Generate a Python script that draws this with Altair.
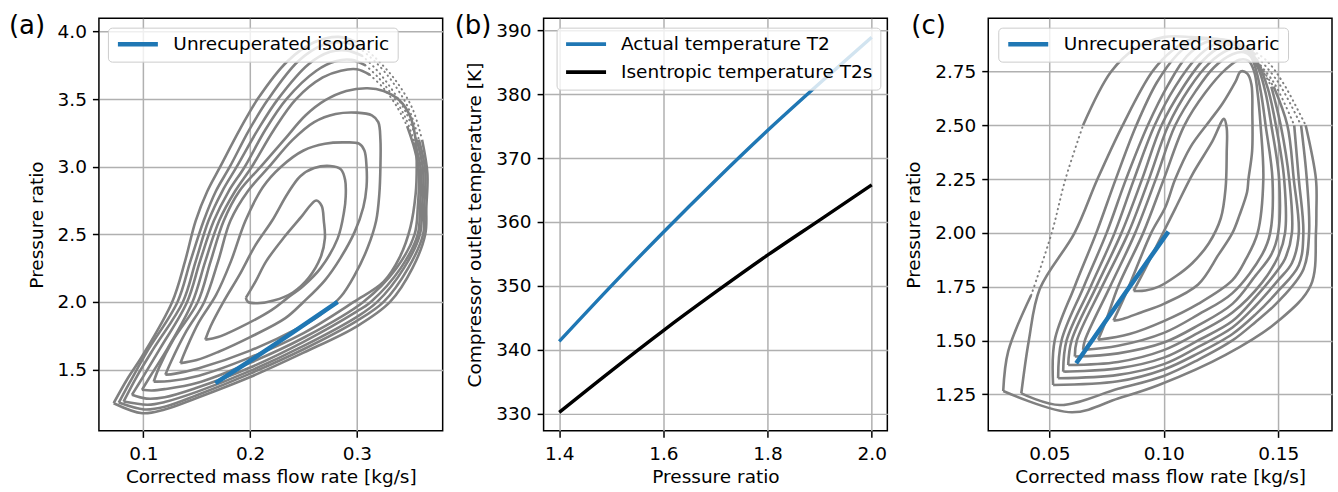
import altair as alt
import pandas as pd

FONT = "DejaVu Sans"
FS = 18.5
GREY = "#808080"
BLUE = "#1f77b4"
W, H = 344, 413

# ---------------- Panel (a): efficiency contours (mass flow [kg/s], pressure ratio)
A1 = [(0.196,2.03),(0.205,2.15),(0.215,2.30),(0.232,2.48),(0.249,2.64),(0.257,2.72),(0.262,2.75),(0.267,2.71),(0.269,2.60),(0.270,2.47),(0.266,2.33),(0.255,2.18),(0.24,2.07),(0.222,2.01),(0.207,1.99),(0.198,2.0),(0.196,2.03)]
A2 = [(0.158,1.72),(0.163,1.82),(0.175,2.0),(0.19,2.2),(0.205,2.42),(0.2205,2.6),(0.235,2.8),(0.247,2.93),(0.26,2.99),(0.275,3.005),(0.285,2.98),(0.289,2.9),(0.2895,2.78),(0.288,2.67),(0.282,2.47),(0.266,2.25),(0.25,2.12),(0.235,2.03),(0.22,1.94),(0.19,1.81),(0.17,1.74),(0.158,1.72)]
A3 = [(0.1347,1.547),(0.14,1.65),(0.152,1.85),(0.168,2.05),(0.182,2.3),(0.1956,2.6),(0.212,2.85),(0.229,3.0),(0.25,3.12),(0.27,3.17),(0.29,3.18),(0.302,3.17),(0.307,3.12),(0.309,3.0),(0.309,2.85),(0.306,2.7),(0.298,2.52),(0.285,2.33),(0.27,2.16),(0.25,2.0),(0.233,1.88),(0.2,1.74),(0.17,1.63),(0.15,1.57),(0.1347,1.547)]
A4 = [(0.1206,1.461),(0.126,1.56),(0.14,1.78),(0.157,2.0),(0.17,2.3),(0.1815,2.6),(0.198,2.82),(0.2178,3.0),(0.24,3.2),(0.26,3.33),(0.28,3.39),(0.30,3.40),(0.314,3.38),(0.32,3.33),(0.322,3.2),(0.322,3.0),(0.321,2.8),(0.318,2.6),(0.31,2.4),(0.298,2.2),(0.285,2.04),(0.265,1.9),(0.246,1.81),(0.2,1.64),(0.152,1.51),(0.13,1.47),(0.1206,1.461)]
A5 = [(0.1097,1.411),(0.115,1.52),(0.128,1.72),(0.151,2.0),(0.163,2.3),(0.1753,2.6),(0.19,2.82),(0.21,3.0),(0.232,3.2),(0.252,3.38),(0.27,3.49),(0.29,3.56),(0.31,3.58),(0.325,3.56),(0.34,3.49),(0.35,3.37),(0.355,3.2),(0.356,3.0),(0.355,2.8),(0.35,2.55),(0.34,2.33),(0.325,2.15),(0.297,2.0),(0.25,1.77),(0.2,1.59),(0.152,1.455),(0.125,1.415),(0.1097,1.411)]
A6 = [(0.0987,1.35),(0.108,1.47),(0.123,1.66),(0.146,2.0),(0.158,2.3),(0.171,2.6),(0.186,2.82),(0.2016,3.0),(0.222,3.27),(0.243,3.5),(0.268,3.66),(0.285,3.71),(0.3,3.72),(0.312,3.68),(0.325,3.58),(0.337,3.45),(0.347,3.3),(0.354,3.13),(0.358,2.97),(0.357,2.7),(0.354,2.5),(0.337,2.25),(0.306,2.0),(0.25,1.735),(0.2,1.55),(0.15,1.40),(0.12,1.355),(0.108,1.345),(0.0987,1.35)]
A7 = [(0.0893,1.313),(0.10,1.45),(0.116,1.66),(0.141,2.0),(0.153,2.3),(0.166,2.6),(0.18,2.82),(0.195,3.0),(0.214,3.27),(0.234,3.5),(0.262,3.71),(0.28,3.78),(0.295,3.79),(0.308,3.75),(0.32,3.66),(0.333,3.53),(0.345,3.37),(0.354,3.18),(0.36,2.97),(0.359,2.7),(0.357,2.5),(0.341,2.25),(0.313,2.0),(0.30,1.93),(0.25,1.705),(0.20,1.515),(0.15,1.365),(0.12,1.295),(0.103,1.285),(0.0893,1.313)]
A8 = [(0.0815,1.263),(0.094,1.45),(0.11,1.66),(0.137,2.0),(0.149,2.3),(0.161,2.6),(0.174,2.82),(0.1875,3.0),(0.207,3.27),(0.226,3.5),(0.255,3.76),(0.275,3.85),(0.29,3.86),(0.305,3.82),(0.318,3.72),(0.332,3.58),(0.346,3.4),(0.356,3.2),(0.362,2.97),(0.361,2.7),(0.359,2.5),(0.344,2.25),(0.319,2.0),(0.30,1.89),(0.25,1.675),(0.20,1.49),(0.15,1.335),(0.12,1.26),(0.104,1.24),(0.0815,1.263)]
A9 = [(0.077,1.256),(0.089,1.43),(0.104,1.64),(0.132,2.0),(0.144,2.3),(0.1565,2.6),(0.168,2.82),(0.181,3.0),(0.199,3.27),(0.217,3.5),(0.245,3.78),(0.268,3.9),(0.286,3.92),(0.302,3.88),(0.318,3.77),(0.334,3.62),(0.349,3.42),(0.358,3.2),(0.364,2.97),(0.363,2.7),(0.362,2.5),(0.348,2.25),(0.325,2.0),(0.30,1.86),(0.25,1.65),(0.20,1.47),(0.15,1.31),(0.12,1.225),(0.101,1.205),(0.077,1.256)]
A10 = [(0.0722,1.251),(0.085,1.43),(0.099,1.6),(0.127,2.0),(0.139,2.3),(0.149,2.6),(0.16,2.82),(0.172,3.0),(0.19,3.27),(0.207,3.5),(0.235,3.78),(0.26,3.92),(0.283,3.96),(0.30,3.92),(0.318,3.8),(0.337,3.63),(0.352,3.43),(0.361,3.2),(0.366,2.95),(0.365,2.7),(0.364,2.5),(0.352,2.25),(0.331,2.0),(0.30,1.82),(0.25,1.625),(0.20,1.445),(0.15,1.29),(0.12,1.205),(0.099,1.177),(0.0722,1.251)]
A_LOOPS = [A1, A2, A3, A4, A5, A6, A7, A8, A9, A10]
# point-index ranges of each loop drawn as sparse dots (loop number -> ranges)
A_DOTTED = {5: [(13, 16)], 6: [(13, 17)], 7: [(13, 17)], 8: [(13, 17)], 9: [(13, 17)]}

A_BLUE_X = [0.1675, 0.20, 0.24, 0.282]
A_BLUE_Y = [1.40, 1.565, 1.775, 2.0]

# ---------------- Panel (b): outlet temperatures
B_PR = [1.4, 1.5, 1.6, 1.7, 1.8, 1.9, 2.0]
B_T2 = [341.3, 350.0, 358.4, 366.5, 374.3, 381.7, 388.9]
B_T2S = [330.2, 336.7, 343.0, 349.0, 354.8, 360.3, 365.8]

# ---------------- Panel (c): efficiency contours
C1 = [(0.0868,1.73),(0.092,1.836),(0.0978,1.96),(0.1051,2.115),(0.1124,2.27),(0.1212,2.425),(0.1263,2.53),(0.1275,2.487),(0.1275,2.378),(0.127,2.208),(0.1249,2.068),(0.1197,1.952),(0.1124,1.859),(0.1051,1.797),(0.0978,1.75),(0.092,1.732),(0.0868,1.73)]
C2 = [(0.078,1.592),(0.0835,1.72),(0.0945,2.0),(0.1007,2.12),(0.105,2.25),(0.1117,2.4),(0.12,2.52),(0.1256,2.6),(0.1314,2.704),(0.1336,2.75),(0.1365,2.74),(0.1383,2.69),(0.1387,2.55),(0.1386,2.38),(0.137,2.25),(0.1364,2.19),(0.133,2.08),(0.13,2.0),(0.124,1.9),(0.115,1.76),(0.1,1.67),(0.09,1.63),(0.082,1.6),(0.078,1.592)]
C3 = [(0.0713,1.503),(0.075,1.6),(0.080,1.75),(0.091,2.0),(0.1,2.25),(0.109,2.5),(0.118,2.65),(0.127,2.76),(0.133,2.805),(0.137,2.8),(0.1395,2.75),(0.1410,2.65),(0.1423,2.5),(0.1435,2.25),(0.141,2.0),(0.136,1.88),(0.13,1.78),(0.115,1.67),(0.10,1.59),(0.085,1.53),(0.0713,1.503)]
C4 = [(0.0647,1.456),(0.0655,1.5),(0.0765,1.75),(0.0875,2.0),(0.0965,2.25),(0.105,2.5),(0.114,2.66),(0.122,2.77),(0.13,2.83),(0.135,2.84),(0.138,2.82),(0.1405,2.75),(0.1425,2.65),(0.1445,2.5),(0.1475,2.25),(0.1465,2.0),(0.143,1.9),(0.13,1.72),(0.115,1.62),(0.10,1.535),(0.08,1.475),(0.0647,1.456)]
C5 = [(0.0611,1.425),(0.062,1.5),(0.073,1.75),(0.0845,2.0),(0.0935,2.25),(0.102,2.5),(0.111,2.67),(0.12,2.79),(0.128,2.85),(0.133,2.86),(0.137,2.84),(0.1415,2.76),(0.1445,2.65),(0.147,2.5),(0.1504,2.25),(0.15,2.0),(0.147,1.9),(0.14,1.8),(0.13,1.67),(0.115,1.57),(0.10,1.49),(0.08,1.44),(0.0611,1.425)]
C6 = [(0.0582,1.386),(0.0597,1.5),(0.0705,1.75),(0.0815,2.0),(0.0905,2.25),(0.099,2.5),(0.108,2.67),(0.117,2.8),(0.125,2.865),(0.131,2.875),(0.136,2.86),(0.1415,2.78),(0.1455,2.67),(0.149,2.5),(0.1526,2.25),(0.153,2.0),(0.15,1.89),(0.143,1.77),(0.13,1.63),(0.115,1.535),(0.10,1.455),(0.08,1.40),(0.0582,1.386)]
C7 = [(0.056,1.355),(0.0575,1.5),(0.068,1.75),(0.0785,2.0),(0.087,2.25),(0.096,2.5),(0.105,2.68),(0.114,2.81),(0.122,2.875),(0.128,2.885),(0.134,2.87),(0.141,2.8),(0.147,2.68),(0.1511,2.5),(0.1548,2.25),(0.156,2.0),(0.153,1.88),(0.15,1.83),(0.14,1.7),(0.13,1.59),(0.115,1.5),(0.10,1.42),(0.08,1.37),(0.056,1.355)]
C8 = [(0.0538,1.324),(0.0553,1.5),(0.065,1.75),(0.075,2.0),(0.0835,2.25),(0.093,2.5),(0.102,2.69),(0.11,2.82),(0.118,2.885),(0.125,2.895),(0.132,2.88),(0.14,2.81),(0.148,2.68),(0.154,2.5),(0.1568,2.25),(0.159,2.0),(0.156,1.86),(0.15,1.78),(0.14,1.66),(0.13,1.56),(0.115,1.47),(0.10,1.39),(0.08,1.34),(0.0538,1.324)]
C9 = [(0.0516,1.293),(0.0523,1.5),(0.061,1.75),(0.0705,2.0),(0.079,2.25),(0.088,2.5),(0.097,2.7),(0.106,2.83),(0.114,2.895),(0.121,2.9),(0.129,2.89),(0.138,2.83),(0.148,2.7),(0.157,2.5),(0.159,2.25),(0.161,2.0),(0.159,1.85),(0.15,1.73),(0.14,1.62),(0.13,1.53),(0.115,1.44),(0.10,1.365),(0.08,1.31),(0.0516,1.293)]
C10 = [(0.0377,1.254),(0.041,1.5),(0.0458,1.74),(0.061,2.0),(0.071,2.25),(0.082,2.5),(0.095,2.75),(0.104,2.85),(0.112,2.9),(0.12,2.905),(0.13,2.89),(0.14,2.83),(0.15,2.7),(0.16,2.5),(0.1625,2.25),(0.1635,2.0),(0.161,1.83),(0.15,1.68),(0.14,1.585),(0.13,1.50),(0.115,1.41),(0.10,1.335),(0.08,1.275),(0.0545,1.20),(0.0377,1.254)]
C11 = [(0.0298,1.265),(0.032,1.45),(0.042,1.71),(0.051,2.0),(0.057,2.25),(0.0647,2.5),(0.077,2.75),(0.088,2.86),(0.1,2.91),(0.112,2.91),(0.125,2.895),(0.137,2.86),(0.145,2.8),(0.152,2.7),(0.162,2.5),(0.1665,2.25),(0.1667,2.1),(0.1665,2.0),(0.1643,1.758),(0.15,1.59),(0.127,1.433),(0.0978,1.293),(0.08,1.23),(0.0598,1.166),(0.0298,1.265)]
C_LOOPS = [C1, C2, C3, C4, C5, C6, C7, C8, C9, C10, C11]
C_DOTTED = {6: [(11, 12)], 7: [(11, 12)], 8: [(11, 13)], 9: [(11, 13)],
            10: [(2, 5), (11, 14)]}

C_BLUE_X = [0.0617, 0.08, 0.102]
C_BLUE_Y = [1.394, 1.673, 2.006]

LBL_A = "Unrecuperated isobaric"
LBL_T2 = "Actual temperature T2"
LBL_T2S = "Isentropic temperature T2s"


def split_loop(n, ranges):
    """Return (start, end, dotted) index pieces covering 0..n-1."""
    pieces, cur = [], 0
    for s, e in sorted(ranges):
        if s > cur:
            pieces.append((cur, s, False))
        pieces.append((s, e, True))
        cur = e
    if cur < n - 1:
        pieces.append((cur, n - 1, False))
    return pieces


def loops_df(loops, prefix, dotted_map):
    rows = []
    for k, pts in enumerate(loops):
        for j, (s, e, dot) in enumerate(split_loop(len(pts), dotted_map.get(k, []))):
            for i in range(s, e + 1):
                x, y = pts[i]
                rows.append({"seg": f"{prefix}{k}_{j}", "i": i, "x": x, "y": y, "dot": dot})
    return pd.DataFrame(rows)


def legend(x, y, sw):
    return alt.Legend(
        title=None, orient="none", legendX=x, legendY=y,
        fillColor="rgba(255,255,255,0.8)", strokeColor="#cccccc",
        cornerRadius=4, padding=7.5, symbolType="stroke",
        symbolStrokeWidth=sw, symbolSize=1600, labelFont=FONT,
        labelFontSize=FS, labelColor="black", labelOffset=13,
        labelLimit=600, clipHeight=18, rowPadding=9, zindex=1,
    )


def panel_label(txt, dx):
    return alt.Chart(pd.DataFrame({"t": [txt]})).mark_text(
        align="left", baseline="alphabetic", fontSize=26, font=FONT, color="black"
    ).encode(text="t:N", x=alt.value(dx), y=alt.value(16))


def map_panel(loops, prefix, dotted_map, bx, by, xdom, ydom, xvals, yvals, fmt, lx, tag, tagdx):
    xs = alt.Scale(domain=xdom, nice=False, zero=False)
    ys = alt.Scale(domain=ydom, nice=False, zero=False)
    xa = alt.Axis(title="Corrected mass flow rate [kg/s]", values=xvals, format=fmt[0])
    ya = alt.Axis(title="Pressure ratio", values=yvals, format=fmt[1])
    df = loops_df(loops, prefix, dotted_map)
    solid = alt.Chart(df[~df["dot"]]).mark_line(
        color=GREY, strokeWidth=2.6, clip=True, interpolate="catmull-rom"
    ).encode(
        x=alt.X("x:Q", scale=xs, axis=xa),
        y=alt.Y("y:Q", scale=ys, axis=ya),
        detail="seg:N",
        order="i:Q",
    )
    dots = alt.Chart(df[df["dot"]]).mark_line(
        color=GREY, strokeWidth=2.0, clip=True, interpolate="catmull-rom",
        strokeDash=[0.5, 4.5], strokeCap="round"
    ).encode(x="x:Q", y="y:Q", detail="seg:N", order="i:Q")
    bdf = pd.DataFrame({"x": bx, "y": by, "series": [LBL_A] * len(bx)})
    blue = alt.Chart(bdf).mark_line(strokeWidth=4.5, clip=True).encode(
        x="x:Q", y="y:Q",
        color=alt.Color("series:N", scale=alt.Scale(domain=[LBL_A], range=[BLUE]),
                        legend=legend(lx, 9.5, 4.5)),
    )
    return alt.layer(solid, dots, blue, panel_label(tag, tagdx)).properties(width=W, height=H)


pa = map_panel(A_LOOPS, "a", A_DOTTED, A_BLUE_X, A_BLUE_Y, [0.0584, 0.3803], [1.0466, 4.0984],
               [0.1, 0.2, 0.3], [1.5, 2.0, 2.5, 3.0, 3.5, 4.0], (".1f", ".1f"), 9, "(a)", -90)

pc = map_panel(C_LOOPS, "c", C_DOTTED, C_BLUE_X, C_BLUE_Y, [0.02326, 0.17352], [1.0797, 2.998],
               [0.05, 0.10, 0.15], [1.25, 1.5, 1.75, 2.0, 2.25, 2.5, 2.75], (".2f", ".2f"), 10, "(c)", -77)

bdf = pd.DataFrame({
    "pr": B_PR + B_PR,
    "T": B_T2 + B_T2S,
    "series": [LBL_T2] * len(B_PR) + [LBL_T2S] * len(B_PR),
})
blines = alt.Chart(bdf).mark_line(strokeWidth=3.4, clip=True, interpolate="monotone").encode(
    x=alt.X("pr:Q", scale=alt.Scale(domain=[1.37, 2.03], nice=False, zero=False),
            axis=alt.Axis(title="Pressure ratio", values=[1.4, 1.6, 1.8, 2.0], format=".1f")),
    y=alt.Y("T:Q", scale=alt.Scale(domain=[327.3, 391.9], nice=False, zero=False),
            axis=alt.Axis(title="Compressor outlet temperature [K]",
                          values=[330, 340, 350, 360, 370, 380, 390], format="d")),
    color=alt.Color("series:N",
                    scale=alt.Scale(domain=[LBL_T2, LBL_T2S], range=[BLUE, "black"]),
                    legend=legend(13, 9.5, 3.6)),
)
pb = alt.layer(blines, panel_label("(b)", -89)).properties(width=W, height=H)

chart = alt.HConcatChart(hconcat=[pa, pb, pc], spacing=101, bounds="flush").resolve_scale(
    color="independent"
).resolve_legend(color="independent").properties(
    padding={"left": 8, "top": 12, "right": 5, "bottom": 5}
).configure_axis(
    labelFont=FONT, labelFontSize=FS, labelColor="black",
    titleFont=FONT, titleFontSize=FS, titleFontWeight="normal", titleColor="black",
    tickColor="black", tickSize=6.5, tickWidth=1.5,
    gridColor="#b0b0b0", gridWidth=1.5, domain=False,
).configure_axisX(labelPadding=7, titlePadding=5
).configure_axisY(labelPadding=6, titlePadding=11
).configure_view(stroke="black", strokeWidth=1.5)

chart.save("out.html", embed_options={"renderer": "svg", "actions": False})
